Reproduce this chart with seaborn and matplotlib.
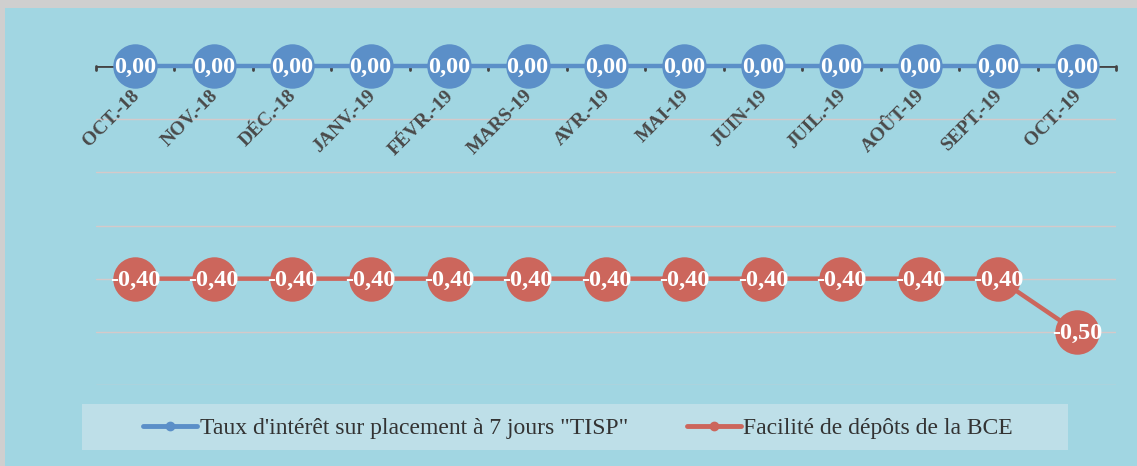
import matplotlib
matplotlib.use("Agg")
import matplotlib.pyplot as plt
from matplotlib.patches import Rectangle
import seaborn as sns
import pandas as pd

mois = ["OCT.-18", "NOV.-18", "DÉC.-18", "JANV.-19", "FÉVR.-19", "MARS-19", "AVR.-19",
        "MAI-19", "JUIN-19", "JUIL.-19", "AOÛT-19", "SEPT.-19", "OCT.-19"]
tisp = [0.00] * 13
bce = [-0.40, -0.40, -0.40, -0.40, -0.40, -0.40, -0.40, -0.40, -0.40, -0.40, -0.40, -0.40, -0.50]
series = ['Taux d\'intérêt sur placement à 7 jours "TISP"', "Facilité de dépôts de la BCE"]
colors = ["#5B8FC8", "#CC665C"]

df = pd.DataFrame({
    "mois": mois * 2,
    "taux": tisp + bce,
    "serie": [series[0]] * 13 + [series[1]] * 13,
})

sns.set_theme(style="white")
plt.rcParams["font.family"] = ["Liberation Serif", "DejaVu Serif"]

W, H = 1137, 466
fig = plt.figure(figsize=(W / 100, H / 100), dpi=100)
fig.patch.set_facecolor("#CFCFCF")
bg = "#A1D6E2"
fig.patches.append(Rectangle((5 / W, 0), 1 - 5 / W, 1 - 8 / H, transform=fig.transFigure,
                             facecolor=bg, edgecolor="none", zorder=-10))
fig.patches.append(Rectangle((82 / W, (H - 450) / H), (1068 - 82) / W, 46 / H,
                             transform=fig.transFigure, facecolor="#BEDFE8",
                             edgecolor="none", zorder=-5))

ax = fig.add_axes([96 / W, (H - 385) / H, (1116 - 96) / W, (385 - 66) / H])
ax.set_facecolor("none")

sns.lineplot(data=df, x="mois", y="taux", hue="serie", palette=colors, ax=ax,
             sort=False, linewidth=3.2, marker="o", markersize=32, markeredgewidth=0,
             legend=False, clip_on=False, zorder=3)

ax.set_xlim(-0.5, 12.5)
ax.set_ylim(-0.6, 0)
ax.set_yticks([-0.1, -0.2, -0.3, -0.4, -0.5, -0.6])
ax.set_yticklabels([])
ax.yaxis.grid(True, color="#D5C9C9", linewidth=1)
ax.tick_params(axis="y", length=0)
for s in ["left", "right", "bottom", "top"]:
    ax.spines[s].set_visible(False)
ax.axhline(0, color="#444444", linewidth=2, zorder=2)

ax.set_xticks(range(13))
ax.set_xticklabels([])
ax.tick_params(axis="x", which="major", length=0)
ax.set_xlabel("")
ax.set_ylabel("")
for i in range(14):
    ax.plot([i - 0.5, i - 0.5], [0, -0.008], color="#444444", lw=2, clip_on=False, zorder=2)

for i, m in enumerate(mois):
    ax.annotate(m, xy=(i, 0), xytext=(-3, -15), textcoords="offset points",
                rotation=45, ha="right", va="top", rotation_mode="anchor",
                fontsize=14, fontweight="bold", color="#4A4A4A")

for i in range(13):
    for vals in (tisp, bce):
        ax.annotate(f"{vals[i]:.2f}".replace(".", ","), xy=(i, vals[i]), xytext=(0, -1),
                    textcoords="offset points", ha="center", va="center",
                    color="white", fontsize=17.5, fontweight="bold", zorder=5,
                    annotation_clip=False)

handles = [plt.Line2D([], [], color=c, lw=3.5, marker="o", markersize=6) for c in colors]
fig.legend(handles, series, loc="center", bbox_to_anchor=(578 / W, 1 - 428 / H),
           ncol=2, frameon=False, fontsize=17, handlelength=2.3, handletextpad=0.1,
           columnspacing=2.5, labelcolor="#333333")

fig.savefig("out.png", dpi=100, facecolor=fig.get_facecolor())
